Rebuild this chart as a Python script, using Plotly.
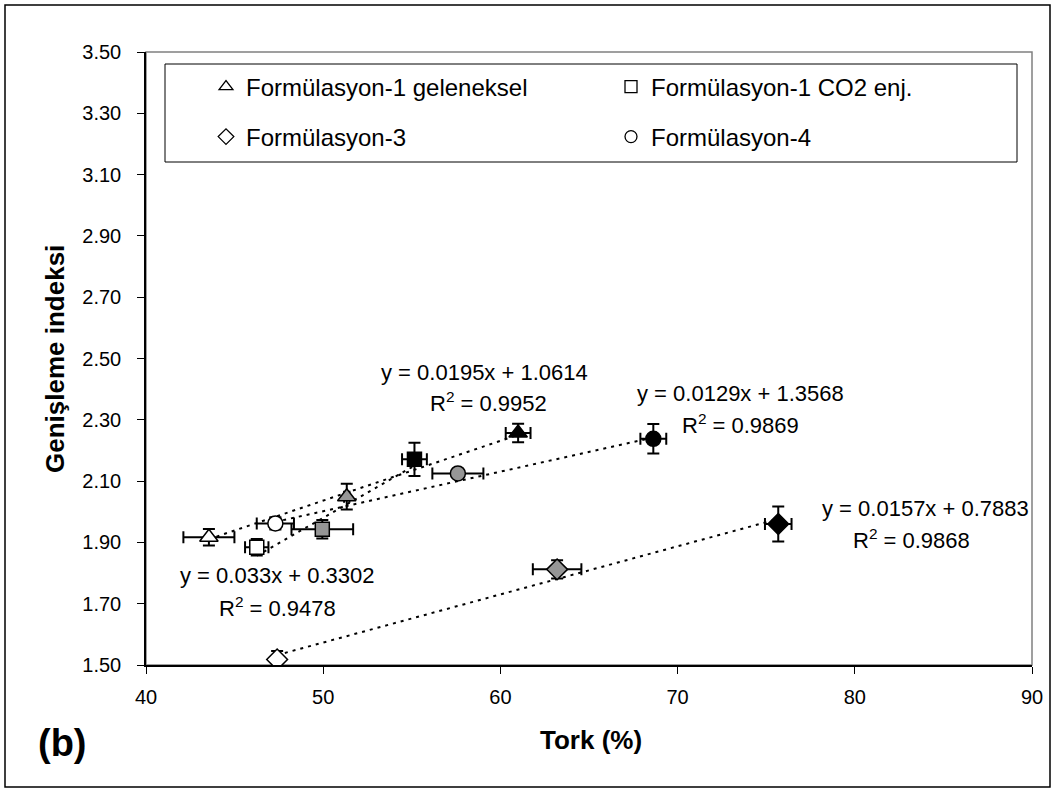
import plotly.graph_objects as go
import numpy as np

# ---- data ----
series_names = ["Formülasyon-1 geleneksel", "Formülasyon-1 CO2 enj.", "Formülasyon-3", "Formülasyon-4"]
symbols = ["triangle-up", "square", "diamond", "circle"]
fills = ["white", "#969696", "black"]

x_tri = [43.55, 51.33, 61.0]
y_tri = [1.917, 2.049, 2.257]
ex_tri = [1.44, 0.15, 0.7]
ey_tri = [0.027, 0.042, 0.03]

x_sq = [46.25, 49.95, 55.15]
y_sq = [1.884, 1.943, 2.171]
ex_sq = [0.66, 1.74, 0.7]
ey_sq = [0.027, 0.03, 0.054]

x_di = [47.4, 63.2, 75.68]
y_di = [1.518, 1.812, 1.96]
ex_di = [0.1, 1.37, 0.75]
ey_di = [0.028, 0.03, 0.057]

x_ci = [47.3, 57.6, 68.63]
y_ci = [1.962, 2.125, 2.238]
ex_ci = [1.05, 1.44, 0.73]
ey_ci = [0.02, 0.01, 0.048]

slopes = [0.0195, 0.033, 0.0157, 0.0129]
intercepts = [1.0614, 0.3302, 0.7883, 1.3568]
r2 = ["0.9952", "0.9478", "0.9868", "0.9869"]

xs = [x_tri, x_sq, x_di, x_ci]
ys = [y_tri, y_sq, y_di, y_ci]
exs = [ex_tri, ex_sq, ex_di, ex_ci]
eys = [ey_tri, ey_sq, ey_di, ey_ci]

FONT = "Liberation Sans, Arial, sans-serif"

# plot area in pixels
L, R, T, B = 146, 1032, 52, 665
W0, H0 = R - L, B - T
def px(x):
    return (x - L) / W0
def py(y):
    return (B - y) / H0

# equation label positions (pixel centres): eq x, eq y, R2 x, R2 y
eq_pos = [(484, 372, 488, 402), (277, 575, 277, 607),
          (925, 508, 911, 539), (740, 393, 740, 424)]

fig = go.Figure()

# trendlines
for i in range(4):
    xl = np.array([min(xs[i]), max(xs[i])])
    fig.add_trace(go.Scatter(x=xl, y=slopes[i] * xl + intercepts[i], mode="lines",
                             line=dict(color="black", width=2, dash="3px,5px"),
                             showlegend=False, hoverinfo="skip"))

sizes = [16, 14, 16, 15]
for i in range(4):
    fig.add_trace(go.Scatter(
        x=xs[i], y=ys[i], mode="markers",
        marker=dict(symbol=symbols[i], size=sizes[i], color=fills,
                    line=dict(color="black", width=1.5)),
        error_x=dict(type="data", array=exs[i], color="black", thickness=2, width=6),
        error_y=dict(type="data", array=eys[i], color="black", thickness=2, width=6),
        showlegend=False))

# legend entries (hollow symbols), one legend per entry
leg_ids = ["legend", "legend2", "legend3", "legend4"]
for i in range(4):
    fig.add_trace(go.Scatter(x=[None], y=[None], mode="markers", name=series_names[i],
                             marker=dict(symbol=symbols[i], size=12, color="white",
                                         line=dict(color="black", width=1.3)),
                             legend=leg_ids[i]))

# equation annotations
ann = []
for i in range(4):
    ex, ey, rx, ry = eq_pos[i]
    ann.append(dict(x=px(ex), y=py(ey), xref="paper", yref="paper", showarrow=False,
                    xanchor="center", yanchor="middle",
                    text=f"y = {slopes[i]}x + {intercepts[i]}",
                    font=dict(size=22, color="black", family=FONT)))
    ann.append(dict(x=px(rx), y=py(ry), xref="paper", yref="paper", showarrow=False,
                    xanchor="center", yanchor="middle",
                    text=f"R<sup>2</sup> = {r2[i]}",
                    font=dict(size=22, color="black", family=FONT)))

ann.append(dict(x=px(62), y=py(743), xref="paper", yref="paper",
                xanchor="center", yanchor="middle", showarrow=False, text="<b>(b)</b>",
                font=dict(size=38, color="black", family=FONT)))
ann.append(dict(x=px(591), y=py(740), xref="paper", yref="paper",
                xanchor="center", yanchor="middle", showarrow=False, text="<b>Tork (%)</b>",
                font=dict(size=26, color="black", family=FONT)))
ann.append(dict(x=px(55), y=py(359), xref="paper", yref="paper", textangle=-90,
                xanchor="center", yanchor="middle", showarrow=False,
                text="<b>Genişleme indeksi</b>",
                font=dict(size=26, color="black", family=FONT)))

shapes = [
    dict(type="rect", xref="paper", yref="paper", x0=0, x1=1, y0=0, y1=1,
         line=dict(color="#808080", width=1.5), layer="below"),
    dict(type="rect", xref="paper", yref="paper", x0=px(165), x1=px(1017), y0=py(162), y1=py(64),
         line=dict(color="black", width=1), fillcolor="white", layer="below"),
    dict(type="rect", xref="paper", yref="paper", x0=px(5), x1=px(1050), y0=py(787), y1=py(5),
         line=dict(color="black", width=1.5)),
]

legend_common = dict(orientation="v", xanchor="left", yanchor="middle",
                     bgcolor="rgba(0,0,0,0)", borderwidth=0,
                     font=dict(size=24, family=FONT, color="black"), itemwidth=30)

leg_xy = [(206, 87), (611, 87), (206, 137), (611, 137)]
legend_layouts = {}
for i in range(4):
    lx, ly = leg_xy[i]
    legend_layouts[leg_ids[i]] = dict(x=px(lx), y=py(ly), **legend_common)

fig.update_layout(
    width=1055, height=792,
    margin=dict(l=L, r=1055 - R, t=T, b=792 - B),
    paper_bgcolor="white", plot_bgcolor="white",
    font=dict(family=FONT, color="black", size=20),
    xaxis=dict(range=[40, 90], dtick=10, tick0=40, showgrid=False, zeroline=False,
               showline=True, linecolor="black", linewidth=1.5, ticks="outside",
               ticklen=7, tickcolor="black", tickfont=dict(size=20),
               ticklabelstandoff=6),
    yaxis=dict(range=[1.5, 3.5], dtick=0.2, tick0=1.5, tickformat=".2f", showgrid=False,
               zeroline=False, showline=True, linecolor="black", linewidth=1.5,
               ticks="outside", ticklen=7, tickcolor="black", tickfont=dict(size=20),
               ticklabelstandoff=12),
    annotations=ann,
    shapes=shapes,
    **legend_layouts,
)

fig.write_html("out.html")
